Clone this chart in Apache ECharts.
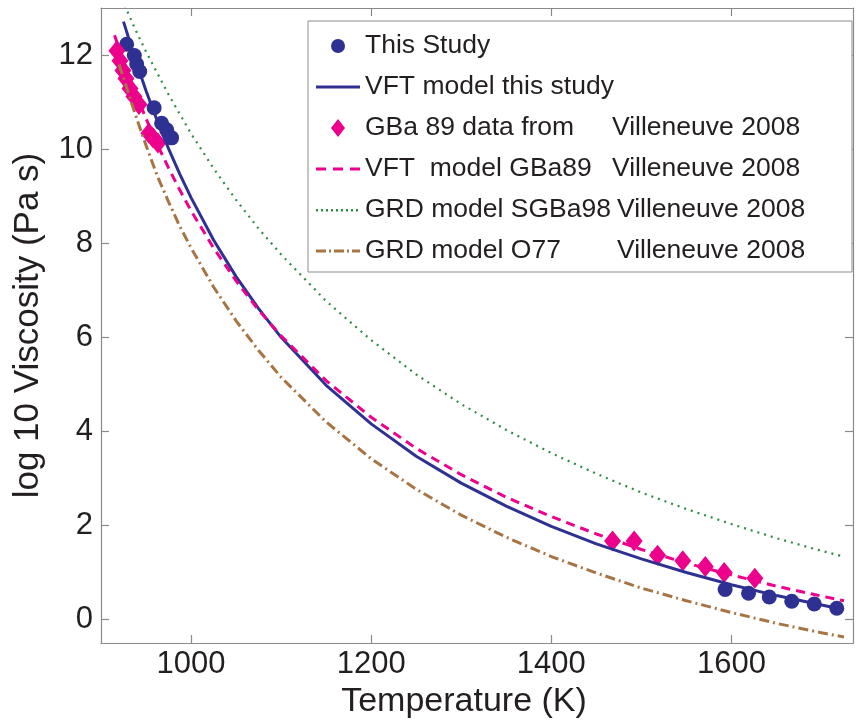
<!DOCTYPE html>
<html>
<head>
<meta charset="utf-8">
<script src="https://cdn.jsdelivr.net/npm/echarts@6/dist/echarts.min.js"></script>
<style>
html, body { margin: 0; padding: 0; background: #fff; }
#chart { width: 857px; height: 724px; }
</style>
</head>
<body>
<div id="chart"></div>
<script>
// measured points, this study
var studyT = [928.5, 937, 939.6, 943, 959, 967.3, 972.9, 978.4, 1593, 1619, 1642, 1667, 1692, 1717];
var studyV = [12.23, 11.99, 11.81, 11.65, 10.88, 10.55, 10.41, 10.24, 0.64, 0.56, 0.48, 0.39, 0.33, 0.24];

// GBa 89 data (Villeneuve 2008)
var gbaT = [917.7, 921.1, 924.4, 927.7, 932.2, 936.6, 942.2, 953.2, 957.7, 963.2, 1468, 1492, 1518, 1546, 1571, 1592, 1626];
var gbaV = [12.09, 11.88, 11.67, 11.5, 11.29, 11.12, 10.95, 10.34, 10.24, 10.13, 1.67, 1.67, 1.37, 1.25, 1.13, 1.0, 0.88];

// model curves
var vftT = [925, 937.5, 950, 962.5, 975, 987.5, 1000, 1025, 1050, 1075, 1100, 1150, 1200, 1250, 1300, 1350, 1400, 1450, 1500, 1550, 1600, 1650, 1720];
var vftV = [12.71, 11.94, 11.24, 10.60, 10.01, 9.47, 8.97, 8.07, 7.29, 6.61, 6.00, 4.98, 4.16, 3.47, 2.90, 2.41, 1.98, 1.61, 1.29, 1.00, 0.74, 0.51, 0.23];

var gbaModelT = [915, 925, 937.5, 950, 962.5, 975, 987.5, 1000, 1025, 1050, 1075, 1100, 1150, 1200, 1250, 1300, 1350, 1400, 1450, 1500, 1550, 1600, 1650, 1700, 1725];
var gbaModelV = [12.42, 11.87, 11.23, 10.65, 10.10, 9.60, 9.13, 8.69, 7.90, 7.20, 6.58, 6.03, 5.08, 4.30, 3.64, 3.08, 2.60, 2.19, 1.82, 1.49, 1.20, 0.95, 0.71, 0.50, 0.40];

var sgbaT = [920, 937.5, 950, 975, 1000, 1025, 1050, 1075, 1100, 1150, 1200, 1250, 1300, 1350, 1400, 1450, 1500, 1550, 1600, 1650, 1700, 1725];
var sgbaV = [13.33, 12.57, 12.07, 11.16, 10.33, 9.59, 8.92, 8.31, 7.76, 6.77, 5.94, 5.21, 4.58, 4.03, 3.54, 3.10, 2.70, 2.35, 2.03, 1.73, 1.46, 1.34];

var o77T = [920, 925, 937.5, 950, 962.5, 975, 987.5, 1000, 1025, 1050, 1075, 1100, 1150, 1200, 1250, 1300, 1350, 1400, 1450, 1500, 1550, 1600, 1650, 1700, 1725];
var o77V = [11.80, 11.52, 10.77, 10.08, 9.43, 8.88, 8.36, 7.90, 7.07, 6.35, 5.72, 5.15, 4.20, 3.42, 2.77, 2.22, 1.75, 1.34, 0.99, 0.67, 0.40, 0.15, -0.08, -0.28, -0.37];

var xTicks = [1000, 1200, 1400, 1600];
var yTicks = [0, 2, 4, 6, 8, 10, 12];

var names = [
	'This Study',
	'VFT model this study',
	'GBa 89 data from Villeneuve 2008',
	'VFT model GBa89 Villeneuve 2008',
	'GRD model SGBa98 Villeneuve 2008',
	'GRD model O77 Villeneuve 2008'
];
var legendText = {};
legendText[names[0]] = '{t|This Study}';
legendText[names[1]] = '{t|VFT model this study}';
legendText[names[2]] = '{a|GBa 89 data from}{b|Villeneuve 2008}';
legendText[names[3]] = '{a|VFT  model GBa89}{b|Villeneuve 2008}';
legendText[names[4]] = '{c|GRD model SGBa98}{b|Villeneuve 2008}';
legendText[names[5]] = '{c|GRD model O77}{b|Villeneuve 2008}';

// legend icons drawn in a 44 x 18 frame (first two moves fix the frame)
var frame = 'path://M0,0M44,18';
var legendIcons = [
	frame + 'M15,9a7,7 0 1,0 14,0a7,7 0 1,0 -14,0z',
	frame + 'M0,7.5h44v3h-44z',
	frame + 'M22,0L29,9L22,18L15,9z',
	frame + 'M0,7.5h10v3h-10zM17,7.5h10v3h-10zM34,7.5h10v3h-10z',
	frame + 'M0,8h2v2.5h-2zM5,8h2v2.5h-2zM10,8h2v2.5h-2zM15,8h2v2.5h-2zM20,8h2v2.5h-2zM25,8h2v2.5h-2zM30,8h2v2.5h-2zM35,8h2v2.5h-2zM40,8h2v2.5h-2z',
	frame + 'M0,7.5h10v3h-10zM13,7.5h2v3h-2zM18,7.5h10v3h-10zM31,7.5h2v3h-2zM36,7.5h8v3h-8z'
];

function pairs(xs, ys) {
	return xs.map(function (x, i) { return [x, ys[i]]; });
}

var font = "'Liberation Sans', Arial, sans-serif";
var ink = '#231F20';
var axisGray = '#8a8a8a';
var blue = '#2E3192', pink = '#EC008C', green = '#2F8B45', brown = '#A87444';

var myChart = echarts.init(document.getElementById('chart'));

function boxAxis(extra) {
	var base = {
		type: 'value',
		axisLine: { show: true, onZero: false, lineStyle: { color: axisGray, width: 1.2 } },
		axisTick: { show: true, inside: true, length: 8, lineStyle: { color: axisGray, width: 1.2 } },
		splitLine: { show: false },
		axisLabel: { show: false }
	};
	for (var k in extra) base[k] = extra[k];
	return base;
}

var option = {
	animation: false,
	backgroundColor: '#fff',
	textStyle: { fontFamily: font },
	grid: { left: 101, right: 4, top: 8, bottom: 76 },
	xAxis: [
		boxAxis({
			position: 'bottom', min: 900, max: 1735,
			axisTick: { show: true, inside: true, length: 8, customValues: xTicks, lineStyle: { color: axisGray, width: 1.2 } },
			axisLabel: {
				show: true, customValues: xTicks, fontSize: 31, color: ink, fontFamily: font, margin: 6,
				formatter: function (v) { return String(v); }
			},
			name: 'Temperature (K)', nameLocation: 'middle', nameGap: 40,
			nameTextStyle: { fontSize: 34, color: ink, fontFamily: font, padding: [0, 26, 0, 0] }
		}),
		boxAxis({
			position: 'top', min: 900, max: 1735,
			axisTick: { show: true, inside: true, length: 8, customValues: xTicks, lineStyle: { color: axisGray, width: 1.2 } }
		})
	],
	yAxis: [
		boxAxis({
			position: 'left', min: -0.5, max: 13,
			axisTick: { show: true, inside: true, length: 8, customValues: yTicks, lineStyle: { color: axisGray, width: 1.2 } },
			axisLabel: {
				show: true, customValues: yTicks, fontSize: 31, color: ink, fontFamily: font, margin: 8,
				formatter: function (v) { return String(v); }
			},
			name: 'log 10 Viscosity (Pa s)', nameLocation: 'middle', nameGap: 55,
			nameTextStyle: { fontSize: 35, color: ink, fontFamily: font }
		}),
		boxAxis({
			position: 'right', min: -0.5, max: 13,
			axisTick: { show: true, inside: true, length: 8, customValues: yTicks, lineStyle: { color: axisGray, width: 1.2 } }
		})
	],
	legend: {
		data: names.map(function (n, i) { return { name: n, icon: legendIcons[i] }; }),
		orient: 'vertical',
		left: 308,
		top: 21,
		itemWidth: 44,
		itemHeight: 18,
		itemGap: 11,
		padding: [10, 40, 6, 8],
		borderColor: '#8c8c8c',
		borderWidth: 1,
		backgroundColor: '#fff',
		selectedMode: false,
		formatter: function (name) { return legendText[name]; },
		textStyle: {
			fontFamily: font, fontSize: 26.5, color: ink, lineHeight: 30,
			rich: {
				t: { fontFamily: font, fontSize: 26.5, color: ink, lineHeight: 30 },
				a: { fontFamily: font, fontSize: 26.5, color: ink, lineHeight: 30, width: 247 },
				c: { fontFamily: font, fontSize: 26.5, color: ink, lineHeight: 30, width: 252 },
				b: { fontFamily: font, fontSize: 26.5, color: ink, lineHeight: 30, width: 195 }
			}
		}
	},
	series: [
		{
			name: names[0], type: 'scatter', symbol: 'circle', symbolSize: 15,
			itemStyle: { color: blue, opacity: 1 },
			data: pairs(studyT, studyV)
		},
		{
			name: names[1], type: 'line', symbol: 'none',
			lineStyle: { color: blue, width: 3 }, itemStyle: { color: blue },
			data: pairs(vftT, vftV)
		},
		{
			name: names[2], type: 'scatter', symbol: 'diamond', symbolSize: [17, 21],
			itemStyle: { color: pink, opacity: 1 },
			data: pairs(gbaT, gbaV)
		},
		{
			name: names[3], type: 'line', symbol: 'none',
			lineStyle: { color: pink, width: 3, type: [9, 6] }, itemStyle: { color: pink },
			data: pairs(gbaModelT, gbaModelV)
		},
		{
			name: names[4], type: 'line', symbol: 'none',
			lineStyle: { color: green, width: 2.2, type: [2, 5] }, itemStyle: { color: green },
			data: pairs(sgbaT, sgbaV)
		},
		{
			name: names[5], type: 'line', symbol: 'none',
			lineStyle: { color: brown, width: 3, type: [10, 4, 2, 4] }, itemStyle: { color: brown },
			data: pairs(o77T, o77V)
		}
	]
};
myChart.setOption(option);
</script>
</body>
</html>
